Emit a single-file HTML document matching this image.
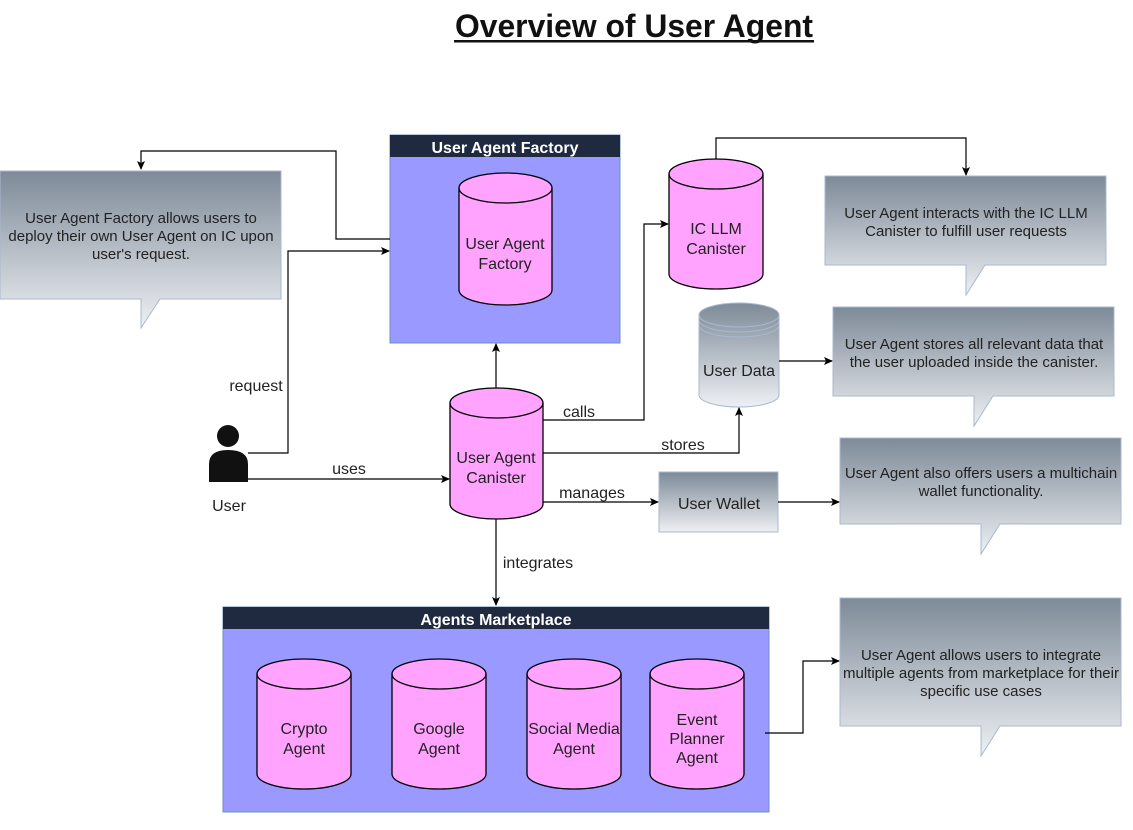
<!DOCTYPE html>
<html><head><meta charset="utf-8"><style>
html,body{margin:0;padding:0;background:#fff;}
svg text{font-family:"Liberation Sans",sans-serif;}
</style></head><body>
<svg width="1133" height="825" viewBox="0 0 1133 825" xmlns="http://www.w3.org/2000/svg">
<defs>
<linearGradient id="g" x1="0" y1="0" x2="0" y2="1"><stop offset="0" stop-color="#7d8a98"/><stop offset="1" stop-color="#eef0f3"/></linearGradient>
<marker id="a" markerWidth="10" markerHeight="10" refX="8" refY="5" orient="auto" markerUnits="userSpaceOnUse"><path d="M0,1 L9,5 L0,9 L2,5 Z" fill="#000"/></marker>
</defs>
<text x="634" y="37" font-size="32" font-weight="bold" text-anchor="middle" fill="#111" textLength="358" lengthAdjust="spacingAndGlyphs">Overview of User Agent</text>
<rect x="454" y="40" width="360" height="2.5" fill="#111"/>

<g stroke="#a9b8d0" stroke-width="1">
<path d="M0,171 H281 V299 H160 L141,328 V299 H0 Z" fill="url(#g)"/>
<path d="M825,176 H1106 V265 H985 L966,295 V265 H825 Z" fill="url(#g)"/>
<path d="M833,307 H1114 V396 H993 L974,426 V396 H833 Z" fill="url(#g)"/>
<path d="M840,438 H1121 V524 H1000 L981,554 V524 H840 Z" fill="url(#g)"/>
<path d="M840,598 H1121 V726 H1000 L981,756 V726 H840 Z" fill="url(#g)"/>
</g>
<g font-size="15" fill="#222" text-anchor="middle">
<text x="141" y="223">User Agent Factory allows users to</text>
<text x="141" y="241">deploy their own User Agent on IC upon</text>
<text x="141" y="259">user's request.</text>
<text x="966" y="218">User Agent interacts with the IC LLM</text>
<text x="966" y="236">Canister to fulfill user requests</text>
<text x="974" y="349">User Agent stores all relevant data that</text>
<text x="974" y="367">the user uploaded inside the canister.</text>
<text x="981" y="478">User Agent also offers users a multichain</text>
<text x="981" y="496">wallet functionality.</text>
<text x="981" y="660">User Agent allows users to integrate</text>
<text x="981" y="678">multiple agents from marketplace for their</text>
<text x="981" y="696">specific use cases</text>
</g>

<rect x="390" y="135" width="230" height="208" fill="#9999ff" stroke="#6c8ebf"/>
<rect x="390" y="135" width="230" height="22" fill="#1f2940"/>
<text x="505" y="153" font-size="16" font-weight="bold" fill="#fff" text-anchor="middle">User Agent Factory</text>
<rect x="223" y="607" width="546" height="205" fill="#9999ff" stroke="#6c8ebf"/>
<rect x="223" y="607" width="546" height="22" fill="#1f2940"/>
<text x="496" y="625" font-size="16" font-weight="bold" fill="#fff" text-anchor="middle">Agents Marketplace</text>

<g fill="#ffa3ff" stroke="#000" stroke-width="1.3">
<path d="M459,188 V290 A46.5,15 0 0 0 552,290 V188 A46.5,15 0 0 0 459,188 Z"/><path d="M459,188 A46.5,15 0 0 0 552,188" fill="none"/>
<path d="M450,403 V504 A46.5,15 0 0 0 543,504 V403 A46.5,15 0 0 0 450,403 Z"/><path d="M450,403 A46.5,15 0 0 0 543,403" fill="none"/>
<path d="M669,174 V274 A47,15 0 0 0 763,274 V174 A47,15 0 0 0 669,174 Z"/><path d="M669,174 A47,15 0 0 0 763,174" fill="none"/>
<path d="M257,674 V774 A47,15 0 0 0 351,774 V674 A47,15 0 0 0 257,674 Z"/><path d="M257,674 A47,15 0 0 0 351,674" fill="none"/>
<path d="M392,674 V774 A47,15 0 0 0 486,774 V674 A47,15 0 0 0 392,674 Z"/><path d="M392,674 A47,15 0 0 0 486,674" fill="none"/>
<path d="M527,674 V774 A47,15 0 0 0 621,774 V674 A47,15 0 0 0 527,674 Z"/><path d="M527,674 A47,15 0 0 0 621,674" fill="none"/>
<path d="M650,674 V774 A47,15 0 0 0 744,774 V674 A47,15 0 0 0 650,674 Z"/><path d="M650,674 A47,15 0 0 0 744,674" fill="none"/>
</g>
<g stroke="#a9b8d0" fill="url(#g)">
<path d="M699,315 V395 A40,12 0 0 0 779,395 V315 A40,12 0 0 0 699,315 Z"/>
<path d="M699,315 A40,12 0 0 0 779,315 M699,320 A40,12 0 0 0 779,320 M699,325 A40,12 0 0 0 779,325" fill="none"/>
<rect x="659" y="472" width="119" height="60"/>
</g>
<g font-size="16" fill="#222" text-anchor="middle">
<text x="505" y="249">User Agent</text><text x="505" y="269">Factory</text>
<text x="496" y="463">User Agent</text><text x="496" y="483">Canister</text>
<text x="716" y="234">IC LLM</text><text x="716" y="254">Canister</text>
<text x="739" y="376">User Data</text>
<text x="719" y="509">User Wallet</text>
<text x="304" y="734">Crypto</text><text x="304" y="754">Agent</text>
<text x="439" y="734">Google</text><text x="439" y="754">Agent</text>
<text x="574" y="734">Social Media</text><text x="574" y="754">Agent</text>
<text x="697" y="725">Event</text><text x="697" y="744">Planner</text><text x="697" y="763">Agent</text>
<text x="229" y="511">User</text>
</g>

<circle cx="228" cy="436" r="11" fill="#111"/>
<path d="M209,482 V464 Q209,450 228,450 Q248,450 248,464 V482 Z" fill="#111"/>

<g stroke="#000" stroke-width="1.2" fill="none" marker-end="url(#a)">
<path d="M248,453 H288 V251 H389"/>
<path d="M390,239 H336 V151 H141 V169"/>
<path d="M248,479 H449"/>
<path d="M496,388 V344"/>
<path d="M543,420 H644 V224 H668"/>
<path d="M543,453 H739 V408"/>
<path d="M543,502 H658"/>
<path d="M496,519 V605"/>
<path d="M716,159 V138 H966 V175"/>
<path d="M779,361 H832"/>
<path d="M778,502 H839"/>
<path d="M765,733 H803 V661 H839"/>
</g>
<g font-size="16" fill="#222" text-anchor="middle">
<text x="256" y="391">request</text>
<text x="349" y="474">uses</text>
<text x="579" y="417">calls</text>
<text x="683" y="450">stores</text>
<text x="592" y="498">manages</text>
<text x="538" y="568">integrates</text>
</g>
</svg>
</body></html>
